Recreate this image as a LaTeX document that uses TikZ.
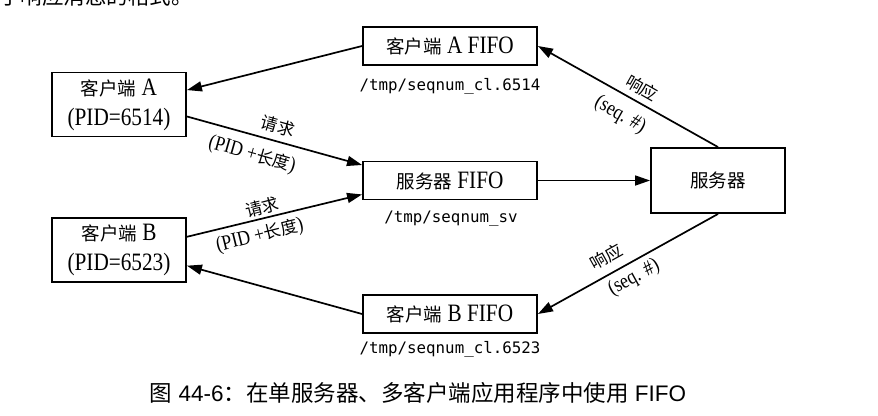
\documentclass[tikz,border=0pt]{standalone}
\usepackage{fontspec}
\usetikzlibrary{arrows.meta}
\setmainfont{Liberation Serif}[FakeStretch=0.85]
\newfontfamily\cjk{Noto Sans CJK SC}
\newfontfamily\capfont{Liberation Sans}
\newfontfamily\monofnt{DejaVu Sans Mono}
\newcommand{\zh}[1]{{\cjk\fontsize{18.5}{18.5}\selectfont #1}}
\newcommand{\zhl}[1]{{\cjk\fontsize{17}{17}\selectfont #1}}
\newcommand{\zhc}[1]{{\cjk\fontsize{22.5}{22.5}\selectfont #1}}
\begin{document}
\begin{tikzpicture}[x=1pt,y=-1pt,
  box/.style={draw, line width=1.9pt, inner sep=0pt, align=center,
    font=\fontsize{25}{30}\selectfont},
  fifobox/.style={box, minimum width=174pt, minimum height=38pt},
  procbox/.style={box, minimum width=134pt, minimum height=64pt},
  arr/.style={line width=1.7pt, -{Triangle[length=15pt,width=10pt]}},
  lbl/.style={inner sep=0pt, font=\fontsize{21}{21}\selectfont},
  fname/.style={inner sep=0pt, font=\monofnt\fontsize{15.8}{15.8}\selectfont}]
\useasboundingbox (0,0) rectangle (878,415);
% partial body text at top (clipped)
\node[anchor=base west, inner sep=0pt] (toptext) at (-1,4.5)
  {\cjk\fontsize{21.5}{21.5}\selectfont 于响应消息的格式。};
% boxes
\node[procbox] (ca) at (119,104.5) {\zh{客户端} A\\(PID=6514)};
\node[procbox] (cb) at (119,250) {\zh{客户端} B\\(PID=6523)};
\node[fifobox] (af) at (450,46) {\zh{客户端} A FIFO};
\node[fifobox] (sf) at (450,180.5) {\zh{服务器} FIFO};
\node[fifobox] (bf) at (450,314) {\zh{客户端} B FIFO};
\node[procbox, minimum height=65pt] (srv) at (718,180.5) {\zh{服务器}};
% file names
\node[fname] (afp) at (450,86) {/tmp/seqnum\_cl.6514};
\node[fname] (sfp) at (451,219) {/tmp/seqnum\_sv};
\node[fname] (bfp) at (450,349) {/tmp/seqnum\_cl.6523};
% connectors
\draw[arr] (af.west) -- (ca.12);
\draw[arr] (ca.-10) -- (sf.170);
\draw[arr] (cb.11) -- (sf.189);
\draw[arr] (bf.west) -- (cb.-13);
\draw[arr] (sf.east) -- (srv.west);
\draw[arr] (srv.north) -- (af.east);
\draw[arr] (srv.south) -- (bf.east);
% connector labels
\node[lbl, rotate=-16] (rq1) at (278,126) {\zhl{请求}};
\node[lbl, rotate=-16] (rq1b) at (252,155) {(PID +\zhl{长度})};
\node[lbl, rotate=14] (rq2) at (262,207) {\zhl{请求}};
\node[lbl, rotate=14] (rq2b) at (260,236) {(PID +\zhl{长度})};
\node[lbl, rotate=-29.5] (rs1) at (642,88) {\zhl{响应}};
\node[lbl, rotate=-29.5] (rs1b) at (620,115) {(seq. \#)};
\node[lbl, rotate=29] (rs2) at (606,257) {\zhl{响应}};
\node[lbl, rotate=29] (rs2b) at (634,278) {(seq. \#)};
% caption
\node[inner sep=0pt] (cap) at (418,393)
  {\capfont\fontsize{22.5}{22.5}\selectfont \zhc{图} 44-6\zhc{：在单服务器、多客户端应用程序中使用} FIFO};
\end{tikzpicture}
\end{document}
